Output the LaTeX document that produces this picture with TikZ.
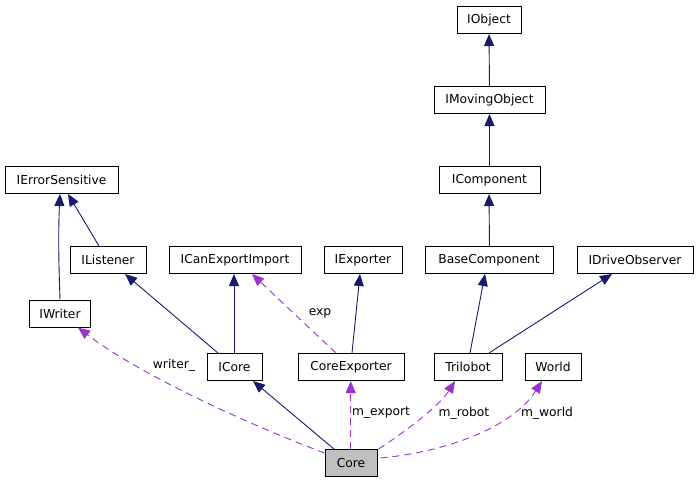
\documentclass[tikz,border=0pt]{standalone}
\usepackage{fontspec}
\setmainfont{DejaVu Sans}
\usetikzlibrary{arrows.meta,calc}
\definecolor{navyedge}{HTML}{191970}
\definecolor{purpleedge}{HTML}{9A32CD}
\definecolor{coregrey}{HTML}{BFBFBF}
\tikzset{
  box/.style={draw=black, line width=1pt, minimum height=27pt, inner sep=0pt,
              font=\fontsize{12.3}{14}\selectfont, fill=white},
  inherit/.style={draw=navyedge, line width=0.9pt,
              -{Triangle[length=12pt,width=10pt]}, fill=none},
  uses/.style={draw=purpleedge, line width=0.9pt, dash pattern=on 7pt off 5pt,
              -{Triangle[length=12pt,width=10pt,fill=purpleedge]}},
  lbl/.style={font=\fontsize{12.3}{14}\selectfont, inner sep=0pt}
}
\begin{document}
\begin{tikzpicture}[x=1pt,y=-1pt]
\useasboundingbox (0,0) rectangle (697,483);
\fill[white] (0,0) rectangle (697,483);
% nodes
\node[box, minimum width=64pt]  (IObject)         at (489,20)    {IObject};
\node[box, minimum width=111pt] (IMovingObject)   at (489.5,100) {IMovingObject};
\node[box, minimum width=101pt] (IComponent)      at (489.5,180) {IComponent};
\node[box, minimum width=113pt] (IErrorSensitive) at (61.5,180)  {IErrorSensitive};
\node[box, minimum width=76pt]  (IListener)       at (108,260)   {IListener};
\node[box, minimum width=61pt]  (IWriter)         at (60,313.5)  {IWriter};
\node[box, minimum width=132pt] (ICanExportImport) at (235,260)  {ICanExportImport};
\node[box, minimum width=78pt]  (IExporter)       at (363,260)   {IExporter};
\node[box, minimum width=128pt] (BaseComponent)   at (489,260)   {BaseComponent};
\node[box, minimum width=116pt] (IDriveObserver)  at (635,260)   {IDriveObserver};
\node[box, minimum width=55pt]  (ICore)           at (234.5,367) {ICore};
\node[box, minimum width=106pt] (CoreExporter)    at (351,367)   {CoreExporter};
\node[box, minimum width=68pt]  (Trilobot)        at (468,367)   {Trilobot};
\node[box, minimum width=56pt]  (World)           at (553,367)   {World};
\node[box, minimum width=52pt, fill=coregrey] (Core) at (351,463) {Core};
% inheritance
\draw[inherit] (IMovingObject.north) -- (IObject.south);
\draw[inherit] (IComponent.north) -- (IMovingObject.south);
\draw[inherit] ($(BaseComponent.north)+(0.5,0)$) -- ($(IComponent.south)+(-0.5,0)$);
\draw[inherit] ($(Trilobot.north)+(2,0)$) -- ($(BaseComponent.south)+(-4,0)$);
\draw[inherit] ($(Trilobot.north)+(21,0)$) -- ($(IDriveObserver.south)+(-23,0)$);
\draw[inherit] ($(IListener.north)+(-9,0)$) -- ($(IErrorSensitive.south)+(6.5,0)$);
\draw[inherit] (IWriter.north) .. controls (59,270) and (58,235) .. ($(IErrorSensitive.south)+(-1.5,0)$);
\draw[inherit] ($(ICore.north)+(-16.5,0)$) -- ($(IListener.south)+(17,0)$);
\draw[inherit] ($(ICore.north)+(-0.5,0)$) -- ($(ICanExportImport.south)+(-1,0)$);
\draw[inherit] ($(CoreExporter.north)+(1,0)$) -- ($(IExporter.south)+(-3,0)$);
\draw[inherit] ($(Core.north)+(-17,0)$) -- ($(ICore.south)+(18.5,0)$);
% usage
\draw[uses] ($(CoreExporter.north)+(-15,0)$) -- ($(ICanExportImport.south)+(17,0)$);
\draw[uses] ($(Core.north)+(-0.3,0)$) -- ($(CoreExporter.south)+(-0.3,0)$);
\draw[uses] ($(Core.west)+(0,-10)$) .. controls (250,425) and (140,375) .. ($(IWriter.south)+(18,0)$);
\draw[uses] ($(Core.north east)+(1,0)$) .. controls (405,432) and (440,405) .. ($(Trilobot.south)+(-13,0)$);
\draw[uses] ($(Core.east)+(3,-5)$) .. controls (445,452) and (512,428) .. ($(World.south)+(-11,0)$);
% labels
\node[lbl] (lexp)    at (320,313) {exp};
\node[lbl] (lwriter) at (174,365) {writer\_};
\node[lbl] (lexport) at (381,413) {m\_export};
\node[lbl] (lrobot)  at (464,413) {m\_robot};
\node[lbl] (lworld)  at (547,413) {m\_world};
\end{tikzpicture}
\end{document}
